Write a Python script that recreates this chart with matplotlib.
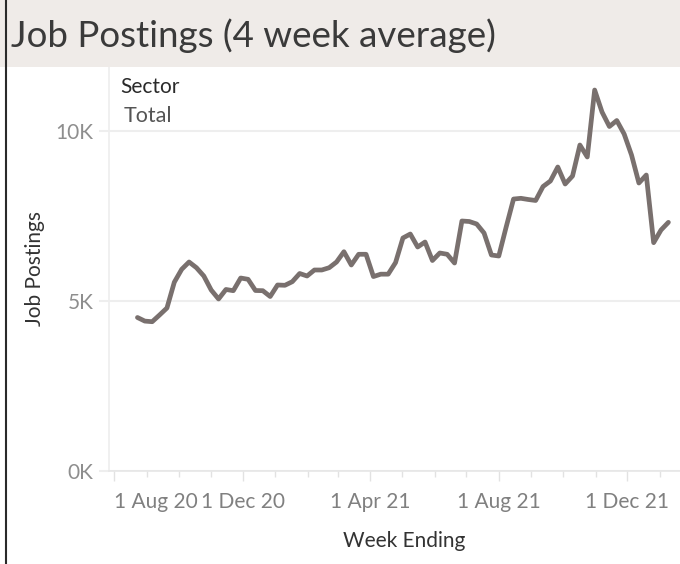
import matplotlib
matplotlib.use("Agg")
import matplotlib.pyplot as plt
import matplotlib.dates as mdates
from matplotlib.ticker import FixedLocator
from matplotlib.patches import Rectangle
from matplotlib.lines import Line2D
import pandas as pd

# ---- data ----
title = "Job Postings (4 week average)"
legend_title = "Sector"
series_name = "Total"
x_label = "Week Ending"
y_label = "Job Postings"
start_week = "2020-08-23"
job_postings = [
    4506, 4400, 4382, 4580, 4785, 5544, 5923, 6138, 5970, 5726,
    5314, 5050, 5330, 5294, 5667, 5629, 5300, 5294, 5123, 5462,
    5453, 5559, 5800, 5726, 5903, 5903, 5970, 6138, 6440, 6050,
    6365, 6365, 5710, 5780, 5780, 6120, 6844, 6961, 6579, 6726,
    6182, 6403, 6365, 6108, 7344, 7329, 7256, 6991, 6344, 6314,
    7167, 7990, 8011, 7976, 7947, 8358, 8520, 8932, 8432, 8667,
    9579, 9226, 11196, 10549, 10123, 10299, 9902, 9285, 8461, 8696,
    6706, 7079, 7305,
]
y_ticks = [0, 5000, 10000]
y_tick_labels = ["0K", "5K", "10K"]
x_tick_dates = ["2020-08-01", "2020-12-01", "2021-04-01", "2021-08-01", "2021-12-01"]
x_tick_labels = ["1 Aug 20", "1 Dec 20", "1 Apr 21", "1 Aug 21", "1 Dec 21"]
x_min, x_max = "2020-07-27", "2022-02-08"
y_max = 11873

weeks = pd.date_range(start_week, periods=len(job_postings), freq="7D")

FONT = ["Lato", "DejaVu Sans"]
plt.rcParams["font.family"] = FONT

W, H = 680, 564
fig = plt.figure(figsize=(W / 100, H / 100), dpi=100)

# title band
fig.patches.append(Rectangle((0, (H - 67) / H), 1, 67 / H, transform=fig.transFigure,
                             facecolor="#EFEBE8", edgecolor="none", zorder=0))
fig.text(11 / W, 1 - 36 / H, title, fontsize=26.5, color="#3a3a3a", va="center", ha="left")
fig.lines.append(Line2D([5.5 / W, 5.5 / W], [0, 1], transform=fig.transFigure,
                        color="#2a2a2a", linewidth=1.5))

left, right = 109, 700
top, bottom = 67, 470.7
ax = fig.add_axes([left / W, (H - bottom) / H, (right - left) / W, (bottom - top) / H])

ax.plot(weeks, job_postings, color="#79706E", linewidth=3.4, solid_joinstyle="round",
        solid_capstyle="round", zorder=3)

ax.set_xlim(pd.Timestamp(x_min), pd.Timestamp(x_max))
ax.set_ylim(0, y_max)

ax.yaxis.set_major_locator(FixedLocator(y_ticks))
ax.set_yticklabels(y_tick_labels)
ax.grid(axis="y", color="#EEEEEE", linewidth=1.5, zorder=0)
ax.grid(axis="x", visible=False)

ax.xaxis.set_major_locator(FixedLocator([mdates.date2num(pd.Timestamp(d)) for d in x_tick_dates]))
ax.set_xticklabels(x_tick_labels)
ax.xaxis.set_minor_locator(mdates.MonthLocator())

for s in ["top", "right"]:
    ax.spines[s].set_visible(False)
ax.spines["left"].set_color("#EEEEEE")
ax.spines["left"].set_linewidth(1.2)
ax.spines["bottom"].set_color("#E6E6E6")
ax.spines["bottom"].set_linewidth(1.2)

ax.tick_params(axis="y", length=7, width=1.5, color="#EEEEEE", labelsize=15,
               labelcolor="#8E8E8E", pad=4)
ax.tick_params(axis="x", which="major", length=7, width=1, color="#E2E2E2",
               labelsize=15, labelcolor="#808080", pad=8)
ax.tick_params(axis="x", which="minor", length=4.5, width=1, color="#E2E2E2")

lbls = ax.get_xticklabels()
lbls[0].set_horizontalalignment("left")

ax.set_xlabel(x_label, fontsize=15, color="#333333")
ax.set_ylabel(y_label, fontsize=15, color="#333333")
ax.xaxis.set_label_coords(0.5, (bottom - 541) / (bottom - top))
ax.xaxis.label.set_va("center")
ax.yaxis.set_label_coords((35 - left) / (right - left), 0.5)
ax.yaxis.label.set_va("center")

fig.text(120 / W, 1 - 87 / H, legend_title, fontsize=15, color="#2a2a2a",
         va="center", ha="left")
fig.text(124 / W, 1 - 116 / H, series_name, fontsize=15.5, color="#555555",
         va="center", ha="left")

fig.savefig("out.png", dpi=100)
